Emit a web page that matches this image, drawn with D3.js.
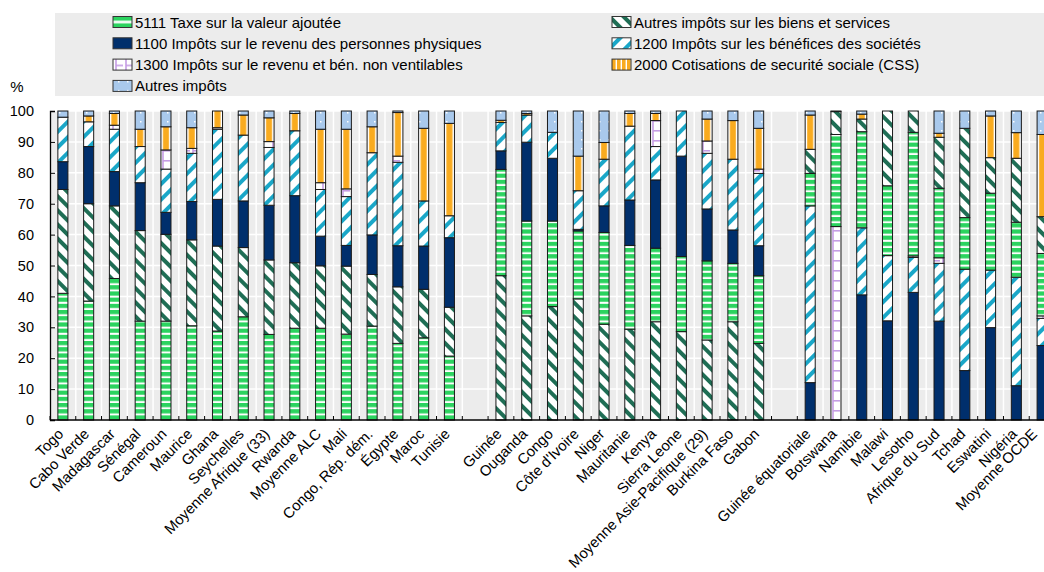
<!DOCTYPE html>
<html><head><meta charset="utf-8">
<script src="https://cdn.jsdelivr.net/npm/d3@7"></script>
<style>
body{margin:0;background:#fff;}
svg{display:block;font-family:"Liberation Sans",Arial,sans-serif;}
</style></head>
<body><svg id="c" width="1044" height="572"></svg>
<script>
const group1 = ["Togo","Cabo Verde","Madagascar","Sénégal","Cameroun","Maurice","Ghana","Seychelles","Moyenne Afrique (33)","Rwanda","Moyenne ALC","Mali","Congo, Rép. dém.","Égypte","Maroc","Tunisie"];
const group2 = ["Guinée","Ouganda","Congo","Côte d'Ivoire","Niger","Mauritanie","Kenya","Sierra Leone","Moyenne Asie-Pacifique (29)","Burkina Faso","Gabon"];
const group3 = ["Guinée équatoriale","Botswana","Namibie","Malawi","Lesotho","Afrique du Sud","Tchad","Eswatini","Nigéria","Moyenne OCDE"];
const categories = [...group1, ...group2, ...group3];

const vat     = [41.0,38.5,45.8,32.0,32.0,30.5,28.8,33.4,27.7,29.7,29.7,27.8,30.4,24.8,26.6,20.7, 34.4,30.7,27.7,22.0,29.7,27.1,23.8,24.3,25.6,18.9,21.9, 10.5,29.8,31.1,22.6,40.0,22.5,16.7,24.9,17.8,20.2];
const ogs     = [33.6,31.5,23.5,29.3,28.1,27.8,27.5,22.4,24.1,21.2,20.2,22.0,16.7,18.3,15.7,15.8, 46.7,33.7,36.7,39.2,31.0,29.4,31.8,28.6,25.9,31.8,24.8, 7.8,7.4,4.1,24.2,6.9,16.5,28.9,11.5,20.7,11.9];
const pit     = [9.0,18.5,11.1,15.5,7.1,12.4,15.1,15.1,17.7,21.7,9.6,6.7,12.8,13.3,14.0,22.5, 6.0,25.5,20.3,0.5,8.6,14.7,22.1,32.5,16.8,10.8,9.7, 12.1,0,40.5,32.1,41.3,32.0,16.0,29.9,11.1,24.1];
const cit     = [14.4,8.0,13.7,11.7,14.0,15.6,22.7,21.3,18.7,21.0,15.1,15.8,26.6,27.0,14.6,7.1, 9.2,8.8,8.4,12.5,15.1,23.9,10.8,14.6,18.0,22.9,23.4, 57.2,0,21.7,21.1,11.3,18.7,32.8,18.6,35.1,8.8];
const unalloc = [0,0,1.3,0,6.2,1.6,0.5,0,1.9,0,2.2,2.5,0,2.0,0,0, 0,0,0,0,0,0,8.4,0,4.0,0,1.4, 0,62.6,0,0,0.5,1.8,0,0,0,0.8];
const ssc     = [0,1.9,3.8,5.6,7.5,6.7,5.4,6.5,7.7,5.6,17.3,19.3,8.4,14.1,23.5,29.9, 0.7,0.5,0,11.2,5.4,4.1,2.3,0,7.1,12.5,13.2, 11.1,0,1.6,0,0,1.3,0,13.5,8.3,26.6];
const other   = [2.0,1.6,0.8,5.9,5.1,5.4,0,1.3,2.2,0.8,5.9,5.9,5.1,0.5,5.6,4.0, 3.0,0.8,6.9,14.6,10.2,0.8,0.8,0,2.6,3.1,5.6, 1.3,0.2,1.0,0,0,7.2,5.6,1.6,7.0,7.6];

const seriesLabels = {
  vat:"5111 Taxe sur la valeur ajoutée",
  ogs:"Autres impôts sur les biens et services",
  pit:"1100 Impôts sur le revenu des personnes physiques",
  cit:"1200 Impôts sur les bénéfices des sociétés",
  unalloc:"1300 Impôts sur le revenu et bén. non ventilables",
  ssc:"2000 Cotisations de securité sociale (CSS)",
  other:"Autres impôts"
};
const stackOrders = [
  ["vat","ogs","pit","cit","unalloc","ssc","other"],
  ["ogs","vat","pit","cit","unalloc","ssc","other"],
  ["pit","cit","unalloc","vat","ogs","ssc","other"]
];
const yTicks = [0,10,20,30,40,50,60,70,80,90,100];

(function draw(){
const values = {vat, ogs, pit, cit, unalloc, ssc, other};
const slots = [...group1, "_gap1", ...group2, "_gap2", ...group3];
const groupOf = name => group1.includes(name) ? 0 : group2.includes(name) ? 1 : 2;

const svg = d3.select("#c");
const W = 1044;
const pLeft = 50, pRight = 1055, pTop = 111, pBottom = 420;
const FONT = "Liberation Sans, Arial, sans-serif";

const x = d3.scaleBand().domain(slots).range([pLeft, pRight]).paddingInner(0.61).paddingOuter(0.305);
const y = d3.scaleLinear().domain([0,100]).range([pBottom, pTop]);

const defs = svg.append("defs");
const C = {vat:"#2bd35f", ogs:"#1f6e55", pit:"#002f6c", cit:"#1aa7c8", unalloc:"#c59de4", ssc:"#f9ab1f", other:"#a9c9ec"};

let p = defs.append("pattern").attr("id","p-vat").attr("patternUnits","userSpaceOnUse").attr("width",8).attr("height",6.2);
p.append("rect").attr("width",8).attr("height",6.2).attr("fill",C.vat);
p.append("rect").attr("y",4.2).attr("width",8).attr("height",2).attr("fill","#ffffff");

p = defs.append("pattern").attr("id","p-vat-leg").attr("patternUnits","objectBoundingBox").attr("patternContentUnits","objectBoundingBox").attr("width",1).attr("height",1);
p.append("rect").attr("width",1).attr("height",1).attr("fill",C.vat);
p.append("rect").attr("y",0.38).attr("width",1).attr("height",0.24).attr("fill","#ffffff");

p = defs.append("pattern").attr("id","p-ogs").attr("patternUnits","userSpaceOnUse").attr("width",10).attr("height",10).attr("patternTransform","rotate(-45)");
p.append("rect").attr("width",10).attr("height",10).attr("fill","#ffffff");
p.append("rect").attr("width",4).attr("height",10).attr("fill",C.ogs);

p = defs.append("pattern").attr("id","p-cit").attr("patternUnits","userSpaceOnUse").attr("width",11).attr("height",11).attr("patternTransform","rotate(45)");
p.append("rect").attr("width",11).attr("height",11).attr("fill","#ffffff");
p.append("rect").attr("width",4).attr("height",11).attr("fill",C.cit);

p = defs.append("pattern").attr("id","p-unalloc").attr("patternUnits","userSpaceOnUse").attr("width",10).attr("height",10);
p.append("rect").attr("width",10).attr("height",10).attr("fill","#ffffff");
p.append("line").attr("x1",3).attr("x2",3).attr("y1",0).attr("y2",10).attr("stroke",C.unalloc).attr("stroke-width",1.6);
p.append("line").attr("x1",3).attr("x2",10).attr("y1",0.8).attr("y2",0.8).attr("stroke",C.unalloc).attr("stroke-width",1.6);

p = defs.append("pattern").attr("id","p-ssc").attr("patternUnits","objectBoundingBox").attr("patternContentUnits","objectBoundingBox").attr("width",1).attr("height",1);
p.append("rect").attr("width",1).attr("height",1).attr("fill","#ffffff");
p.append("rect").attr("x",0.2).attr("width",0.6).attr("height",1).attr("fill",C.ssc);

p = defs.append("pattern").attr("id","p-ssc-leg").attr("patternUnits","userSpaceOnUse").attr("width",5).attr("height",10);
p.append("rect").attr("width",5).attr("height",10).attr("fill","#ffffff");
p.append("rect").attr("x",0).attr("width",3.6).attr("height",10).attr("fill",C.ssc);

p = defs.append("pattern").attr("id","p-other").attr("patternUnits","userSpaceOnUse").attr("width",9).attr("height",9);
p.append("rect").attr("width",9).attr("height",9).attr("fill",C.other);
p.append("rect").attr("x",5).attr("y",4).attr("width",1.5).attr("height",1.5).attr("fill","#ffffff");

const fills = {vat:"url(#p-vat)", ogs:"url(#p-ogs)", pit:C.pit, cit:"url(#p-cit)", unalloc:"url(#p-unalloc)", ssc:"url(#p-ssc)", other:"url(#p-other)"};

svg.append("rect").attr("x",pLeft).attr("y",pTop).attr("width",pRight-pLeft).attr("height",pBottom-pTop).attr("fill","#ececec");
svg.append("g").selectAll("line").data(yTicks).join("line")
  .attr("x1",pLeft).attr("x2",pRight).attr("y1",d=>y(d)).attr("y2",d=>y(d))
  .attr("stroke","#ffffff").attr("stroke-width",1.5);
const bounds = d3.range(slots.length+1).map(i => x.range()[0] + i*x.step());
svg.append("g").selectAll("line").data(bounds).join("line")
  .attr("x1",d=>d).attr("x2",d=>d).attr("y1",pTop).attr("y2",pBottom)
  .attr("stroke","#ffffff").attr("stroke-width",1.5);

const segs = [];
categories.forEach((name,i) => {
  const order = stackOrders[groupOf(name)];
  let acc = 0;
  order.forEach(k => {
    const v = values[k][i];
    if (v > 0) segs.push({name, key:k, y0:acc, y1:acc+v});
    acc += v;
  });
});
svg.append("g").selectAll("rect").data(segs).join("rect")
  .attr("x", d => x(d.name)).attr("width", x.bandwidth())
  .attr("y", d => y(d.y1)).attr("height", d => y(d.y0) - y(d.y1))
  .attr("fill", d => fills[d.key])
  .attr("stroke","#1a1a1a").attr("stroke-width",1);

const yAxis = svg.append("g").attr("transform",`translate(${pLeft},0)`)
  .call(d3.axisLeft(y).tickValues(yTicks).tickSize(-5).tickPadding(16));
yAxis.select(".domain").attr("stroke","#000").attr("stroke-width",1.3);
yAxis.selectAll(".tick line").attr("stroke","#000");
yAxis.selectAll("text").attr("font-size",14.5).attr("fill","#000").attr("font-family",FONT);

svg.append("line").attr("x1",pLeft).attr("x2",W).attr("y1",pBottom).attr("y2",pBottom).attr("stroke","#000").attr("stroke-width",1.5);
svg.append("g").selectAll("line").data(bounds).join("line")
  .attr("x1",d=>d).attr("x2",d=>d).attr("y1",pBottom).attr("y2",pBottom-4)
  .attr("stroke","#000").attr("stroke-width",1);

const xAxis = svg.append("g").attr("transform",`translate(0,${pBottom})`)
  .call(d3.axisBottom(x).tickSize(0).tickFormat(d => d.startsWith("_") ? "" : d));
xAxis.select(".domain").remove();
xAxis.selectAll("text")
  .attr("font-size",14.8).attr("fill","#000").attr("font-family",FONT)
  .attr("text-anchor","end").attr("dy",null).attr("y",null)
  .attr("transform", d => {
    const cx = x(d) + x.bandwidth()/2;
    const dx = Math.min(1.5, (W - 6) - cx);
    return `translate(${dx},15) rotate(-45)`;
  });

svg.append("rect").attr("x",55).attr("y",13).attr("width",W-55).attr("height",83).attr("fill","#ececec");
const legendItems = [
  {k:"vat", col:0, row:0},{k:"ogs", col:1, row:0},
  {k:"pit", col:0, row:1},{k:"cit", col:1, row:1},
  {k:"unalloc", col:0, row:2},{k:"ssc", col:1, row:2},
  {k:"other", col:0, row:3}
];
const legFill = Object.assign({}, fills, {ssc:"url(#p-ssc-leg)", vat:"url(#p-vat-leg)"});
const lg = svg.append("g").selectAll("g").data(legendItems).join("g")
  .attr("transform", d => `translate(${d.col ? 612 : 113},${22 + d.row*21.3})`);
lg.append("rect").attr("x",0).attr("y",-5.5).attr("width",19).attr("height",11)
  .attr("fill", d => legFill[d.k]).attr("stroke","#333").attr("stroke-width",1);
lg.append("text").attr("x",22).attr("y",5.5).attr("font-size",15).attr("fill","#000").attr("font-family",FONT)
  .text(d => seriesLabels[d.k]);

svg.append("text").attr("x",17).attr("y",92).attr("text-anchor","middle").attr("font-size",15).attr("fill","#000").attr("font-family",FONT).text("%");
})();
</script></body></html>
